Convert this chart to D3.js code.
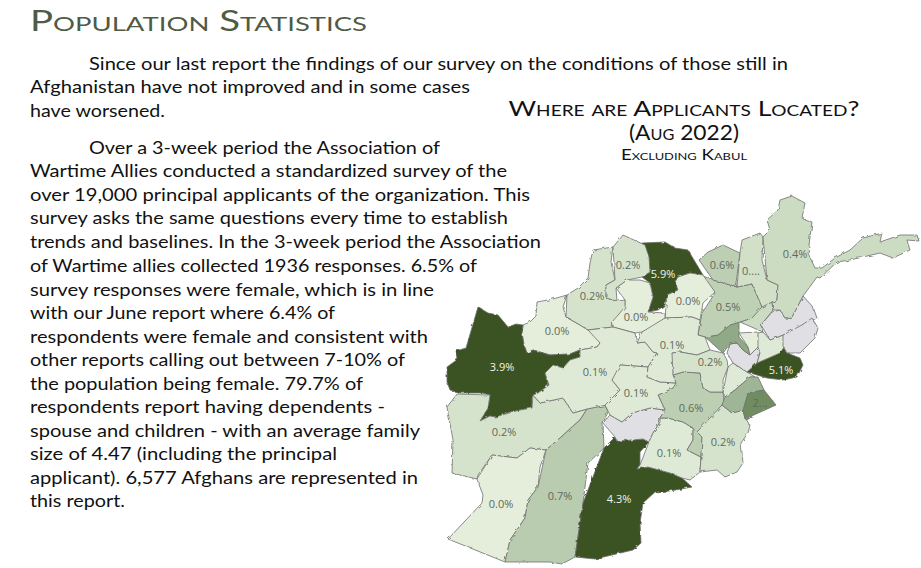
<!DOCTYPE html>
<html>
<head>
<meta charset="utf-8">
<script src="https://cdn.jsdelivr.net/npm/d3@7"></script>
<style>
  html, body { margin: 0; padding: 0; background: #fff; overflow: hidden; }
  svg { display: block; }
  text { font-family: Lato, "Open Sans", sans-serif; }
</style>
</head>
<body>
<svg id="page" width="921" height="568"></svg>
<script>
const pageTitle = 'Population Statistics'
const chartTitles = ['Where are Applicants Located?', '(Aug 2022)', 'Excluding Kabul']

// body copy, one entry per printed line: [text, left edge, right edge, baseline]
const bodyLines = [
    ['Since our last report the findings of our survey on the conditions of those still in', 89, 788, 70],
    ['Afghanistan have not improved and in some cases', 30, 470, 93],
    ['have worsened.', 30, 165, 117],
    ['Over a 3-week period the Association of', 89, 440, 154],
    ['Wartime Allies conducted a standardized survey of the', 30, 507, 177],
    ['over 19,000 principal applicants of the organization. This', 30, 530, 201],
    ['survey asks the same questions every time to establish', 30, 508, 224],
    ['trends and baselines. In the 3-week period the Association', 30, 541, 248],
    ['of Wartime allies collected 1936 responses. 6.5% of', 30, 477, 272],
    ['survey responses were female, which is in line', 30, 434, 296],
    ['with our June report where 6.4% of', 30, 335, 319],
    ['respondents were female and consistent with', 30, 428, 343],
    ['other reports calling out between 7-10% of', 30, 405, 366],
    ['the population being female. 79.7% of', 30, 363, 390],
    ['respondents report having dependents -', 30, 385, 413],
    ['spouse and children - with an average family', 30, 420, 437],
    ['size of 4.47 (including the principal', 30, 337, 460],
    ['applicant). 6,577 Afghans are represented in', 30, 418, 484],
    ['this report.', 30, 125, 507],
]

const provinceNames = [
    'Badghis', 'Herat', 'Farah', 'Nimroz', 'Helmand', 'Kandahar', 'Uruzgan', 'Zabul',
    'Ghazni', 'Paktika', 'Logar', 'Paktia', 'Khost', 'Nangarhar', 'Kabul', 'Parwan',
    'Kapisa', 'Laghman', 'Nuristan', 'Kunar', 'Panjshir', 'Baghlan', 'Kunduz', 'Takhar',
    'Badakhshan', 'Balkh', 'Samangan', 'Sar-e Pol', 'Faryab', 'Jawzjan', 'Ghor',
    'Daykundi', 'Bamyan', 'Wardak',
]

// share of responses in percent, null where the survey has no figure
const provinceShares = [
    0.0, 3.9, 0.2, 0.0, 0.7, 4.3, null, 0.1,
    0.6, 0.2, 0.1, 1.0, 2.0, 5.1, null, 1.2,
    0.0, 0.1, null, null, 0.4, 0.5, 0.6, 0.3,
    0.4, 5.9, 0.0, 0.0, 0.2, 0.2, 0.1,
    0.1, 0.1, 0.2,
]

const shareLabels = [
    '0.0%', '3.9%', '0.2%', '0.0%', '0.7%', '4.3%', '', '0.1%',
    '0.6%', '0.2%', '', '', '2...', '5.1%', '', '',
    '', '', '', '', '', '0.5%', '0.6%', '0....',
    '0.4%', '5.9%', '0.0%', '0.0%', '0.2%', '0.2%', '0.1%',
    '0.1%', '0.1%', '0.2%',
]

// where each label sits, in map units
const labelAnchors = [
    [557, 331], [502, 367], [504, 432], [501, 504], [560, 496], [619, 499], null, [669, 453],
    [691, 408], [723, 442], null, null, [760, 403], [781, 370], null, null,
    null, null, null, null, null, [728, 307], [722, 265], [751, 271],
    [795, 254], [663, 274], [688, 301], [636, 317], [592, 296], [628, 265], [595, 372],
    [636, 393], [672, 345], [710, 362],
]

// province outlines in map units
const provinceRings = [
    [[537, 302], [553, 299], [567, 295], [563, 307], [566, 317], [580, 325], [588, 330], [597, 337], [600, 343], [597, 347], [580, 350], [570, 354], [550, 355], [533, 350], [527, 353], [524, 345], [522, 333], [523, 325], [530, 322], [536, 316], [538, 308]],
    [[478, 307], [488, 313], [498, 315], [508, 327], [516, 324], [523, 325], [522, 333], [524, 345], [527, 353], [533, 350], [550, 355], [570, 354], [580, 350], [580, 357], [570, 360], [563, 368], [553, 365], [545, 373], [549, 385], [538, 393], [532, 397], [532, 408], [520, 410], [510, 412], [495, 417], [490, 416], [480, 421], [488, 408], [490, 395], [482, 393], [460, 393], [450, 390], [447, 382], [447, 367], [458, 359], [456, 351], [466, 348], [470, 323]],
    [[457, 394], [447, 407], [453, 440], [452, 473], [477, 479], [478, 475], [492, 455], [517, 458], [530, 448], [546, 450], [560, 438], [572, 427], [580, 420], [587, 409], [573, 413], [563, 398], [540, 403], [533, 395], [532, 408], [520, 410], [495, 417], [490, 416], [480, 421], [488, 408], [490, 395], [482, 393]],
    [[477, 479], [483, 495], [482, 503], [448, 539], [505, 562], [510, 540], [525, 518], [528, 500], [538, 487], [540, 467], [546, 450], [530, 448], [517, 458], [492, 455], [478, 475]],
    [[546, 450], [560, 438], [572, 427], [580, 420], [587, 409], [605, 405], [608, 412], [603, 423], [604, 448], [588, 463], [583, 503], [575, 557], [562, 564], [550, 562], [505, 562], [510, 540], [525, 518], [528, 500], [538, 487], [540, 467]],
    [[604, 448], [615, 437], [617, 441], [632, 440], [643, 439], [649, 442], [640, 452], [640, 465], [637, 469], [648, 467], [670, 473], [682, 478], [692, 487], [670, 491], [655, 492], [643, 503], [640, 523], [641, 543], [633, 550], [595, 559], [575, 557], [583, 503], [588, 463]],
    [[603, 423], [610, 415], [622, 422], [632, 413], [650, 408], [665, 410], [660, 418], [660, 422], [653, 433], [649, 442], [643, 439], [632, 440], [617, 441], [615, 437], [604, 448]],
    [[649, 442], [653, 433], [660, 422], [660, 418], [668, 418], [683, 422], [693, 428], [693, 440], [687, 450], [701, 457], [700, 472], [690, 480], [682, 478], [670, 473], [648, 467], [637, 469], [640, 465], [640, 452]],
    [[673, 375], [683, 372], [700, 373], [703, 388], [710, 392], [723, 392], [724, 402], [715, 415], [697, 432], [702, 437], [701, 457], [687, 450], [693, 440], [693, 428], [683, 422], [668, 418], [660, 418], [665, 410], [658, 395], [673, 388], [676, 383]],
    [[722, 405], [732, 413], [743, 410], [745, 418], [750, 425], [748, 433], [741, 443], [743, 463], [737, 472], [725, 477], [717, 470], [700, 472], [701, 457], [702, 437], [697, 432], [710, 415]],
    [[728, 367], [733, 363], [747, 372], [755, 377], [750, 377], [735, 390], [725, 397], [723, 392], [723, 380]],
    [[725, 397], [735, 390], [750, 377], [758, 377], [764, 390], [748, 393], [749, 400], [745, 410], [732, 413], [722, 405], [724, 402]],
    [[748, 393], [764, 390], [776, 405], [745, 419], [743, 410], [749, 400]],
    [[747, 372], [757, 363], [780, 353], [783, 346], [787, 353], [800, 358], [803, 365], [797, 377], [783, 380], [767, 378], [755, 374]],
    [[727, 353], [730, 344], [737, 343], [743, 350], [750, 355], [758, 347], [760, 353], [757, 363], [747, 372], [733, 363], [727, 360]],
    [[705, 337], [718, 335], [730, 325], [739, 322], [739, 337], [748, 347], [750, 355], [743, 350], [737, 343], [730, 344], [723, 353], [710, 350]],
    [[739, 333], [757, 332], [761, 345], [758, 347], [750, 355], [748, 347], [739, 337]],
    [[758, 333], [763, 332], [770, 340], [783, 335], [785, 346], [780, 353], [757, 363], [760, 353], [758, 347], [761, 345]],
    [[761, 325], [772, 312], [780, 310], [785, 318], [792, 317], [803, 296], [813, 307], [817, 318], [802, 325], [800, 333], [783, 335], [770, 340], [763, 332]],
    [[802, 325], [812, 318], [818, 328], [815, 338], [800, 353], [787, 353], [783, 346], [783, 335], [800, 333]],
    [[740, 322], [752, 318], [760, 307], [772, 302], [773, 310], [761, 325], [763, 332], [739, 333]],
    [[703, 276], [713, 280], [737, 287], [752, 284], [762, 307], [752, 318], [740, 322], [730, 325], [718, 335], [705, 337], [698, 335], [702, 313], [715, 293], [710, 285]],
    [[699, 260], [708, 252], [723, 245], [740, 253], [736, 283], [737, 287], [713, 280], [703, 276]],
    [[740, 253], [742, 240], [760, 233], [763, 237], [762, 260], [767, 280], [778, 285], [777, 300], [772, 302], [762, 307], [752, 284], [737, 287], [736, 283]],
    [[763, 237], [770, 230], [767, 220], [778, 210], [780, 200], [792, 196], [805, 203], [802, 218], [812, 222], [808, 253], [815, 268], [822, 268], [835, 258], [850, 250], [863, 238], [882, 233], [880, 242], [900, 235], [917, 235], [919, 241], [907, 240], [910, 250], [893, 258], [880, 253], [850, 260], [837, 262], [820, 278], [817, 277], [803, 296], [792, 317], [785, 318], [780, 310], [773, 310], [772, 302], [777, 300], [778, 285], [767, 280], [762, 260]],
    [[642, 243], [665, 242], [675, 248], [688, 250], [703, 275], [690, 273], [678, 277], [675, 282], [678, 290], [667, 295], [665, 305], [658, 310], [648, 312], [653, 297], [650, 283], [642, 277], [650, 272], [649, 257]],
    [[667, 295], [678, 290], [675, 282], [678, 277], [690, 273], [703, 275], [715, 292], [703, 303], [700, 320], [692, 317], [665, 318], [665, 305]],
    [[616, 288], [627, 280], [640, 280], [650, 283], [653, 297], [648, 312], [665, 313], [665, 318], [657, 325], [642, 332], [635, 333], [613, 327], [612, 320], [625, 305], [625, 300], [617, 301]],
    [[567, 295], [578, 288], [588, 278], [590, 263], [593, 250], [613, 247], [611, 262], [615, 280], [606, 285], [606, 298], [617, 301], [625, 300], [625, 307], [612, 322], [613, 327], [588, 330], [580, 325], [566, 317], [563, 307]],
    [[613, 247], [623, 235], [645, 245], [649, 257], [650, 272], [642, 277], [627, 280], [616, 288], [617, 301], [606, 298], [606, 285], [615, 280], [611, 262]],
    [[588, 330], [613, 327], [635, 333], [637, 343], [645, 342], [653, 352], [657, 353], [648, 367], [620, 365], [619, 372], [612, 380], [620, 390], [607, 405], [587, 409], [573, 413], [563, 398], [540, 403], [533, 395], [538, 393], [549, 385], [545, 373], [553, 365], [563, 368], [570, 360], [580, 357], [580, 350], [597, 347], [600, 343], [597, 337]],
    [[620, 365], [648, 367], [647, 377], [660, 382], [676, 383], [673, 388], [658, 395], [665, 410], [650, 408], [632, 413], [622, 422], [610, 415], [605, 405], [620, 390], [612, 380], [619, 372]],
    [[642, 332], [665, 318], [692, 317], [700, 320], [698, 335], [705, 337], [710, 350], [697, 355], [680, 352], [672, 353], [677, 363], [673, 375], [676, 383], [660, 382], [647, 377], [648, 367], [657, 353], [653, 352], [645, 342], [637, 343], [635, 333]],
    [[672, 353], [680, 352], [697, 355], [710, 350], [723, 353], [727, 360], [728, 367], [723, 380], [723, 392], [710, 392], [703, 388], [700, 373], [683, 372], [673, 375], [677, 363]],
]

const svg = d3.select('#page')

// ---- text column ----
svg.append('text')
    .text(pageTitle)
    .attr('x', 30)
    .attr('y', 31)
    .attr('textLength', 337)
    .attr('lengthAdjust', 'spacingAndGlyphs')
    .style('font-variant', 'small-caps')
    .style('font-size', '28px')
    .style('fill', '#4f5b45')

svg.selectAll('.body-line')
    .data(bodyLines)
    .join('text')
    .attr('class', 'body-line')
    .attr('x', (d) => d[1])
    .attr('y', (d) => d[3])
    .attr('textLength', (d) => d[2] - d[1])
    .attr('lengthAdjust', 'spacingAndGlyphs')
    .style('font-size', '18px')
    .style('fill', '#111')
    .text((d) => d[0])

// ---- map heading ----
const headingSizes = [21, 21, 14.5]
const headingY = [116, 140, 160]
const headingWidths = [351, 110, 126]
svg.selectAll('.heading')
    .data(chartTitles)
    .join('text')
    .attr('class', 'heading')
    .attr('x', (d, i) => 684 - headingWidths[i] / 2)
    .attr('y', (d, i) => headingY[i])
    .attr('textLength', (d, i) => headingWidths[i])
    .attr('lengthAdjust', 'spacingAndGlyphs')
    .style('font-variant', 'small-caps')
    .style('font-size', (d, i) => `${headingSizes[i]}px`)
    .style('fill', '#111')
    .text((d) => d)

// ---- map ----
const color = d3
    .scaleLinear()
    .domain([0, 0.1, 0.2, 0.4, 0.5, 0.7, 1.0, 1.2, 2.0, 3.9])
    .range(['#e4eedb', '#deead5', '#d6e3cc', '#ccdcc2', '#bfd1b5', '#b9ccb0', '#9fb696', '#90a987', '#6f8c60', '#3b5323'])
    .clamp(true)

const provinces = provinceNames.map((name, i) => ({
    type: 'Feature',
    properties: { name, share: provinceShares[i], label: shareLabels[i], anchor: labelAnchors[i] },
    geometry: { type: 'Polygon', coordinates: [provinceRings[i]] },
}))

const path = d3.geoPath(d3.geoIdentity())

// rough up the straight traced edges a little, the source map is a resampled bitmap
const defs = svg.append('defs')
const rough = defs.append('filter').attr('id', 'rough').attr('x', '-2%').attr('y', '-2%').attr('width', '104%').attr('height', '104%')
rough.append('feTurbulence').attr('type', 'fractalNoise').attr('baseFrequency', 0.18).attr('numOctaves', 2).attr('seed', 4).attr('result', 'n')
rough.append('feDisplacementMap').attr('in', 'SourceGraphic').attr('in2', 'n').attr('scale', 3)

svg.append('g')
    .attr('filter', 'url(#rough)')
    .selectAll('path')
    .data(provinces)
    .join('path')
    .attr('d', path)
    .style('fill', (d) => (d.properties.share === null ? '#e0dfe3' : color(d.properties.share)))
    .style('stroke', '#6e6e6e')
    .style('stroke-width', 0.8)
    .style('stroke-linejoin', 'round')

svg.append('g')
    .selectAll('text')
    .data(provinces.filter((d) => d.properties.label))
    .join('text')
    .attr('x', (d) => d.properties.anchor[0])
    .attr('y', (d) => d.properties.anchor[1] + 4)
    .attr('text-anchor', 'middle')
    .style('font-family', '"Open Sans", sans-serif')
    .style('font-size', '11px')
    .style('fill', (d) => (d.properties.share >= 3 ? '#f2f4ee' : '#5f6a5c'))
    .text((d) => d.properties.label)
</script>
</body>
</html>
